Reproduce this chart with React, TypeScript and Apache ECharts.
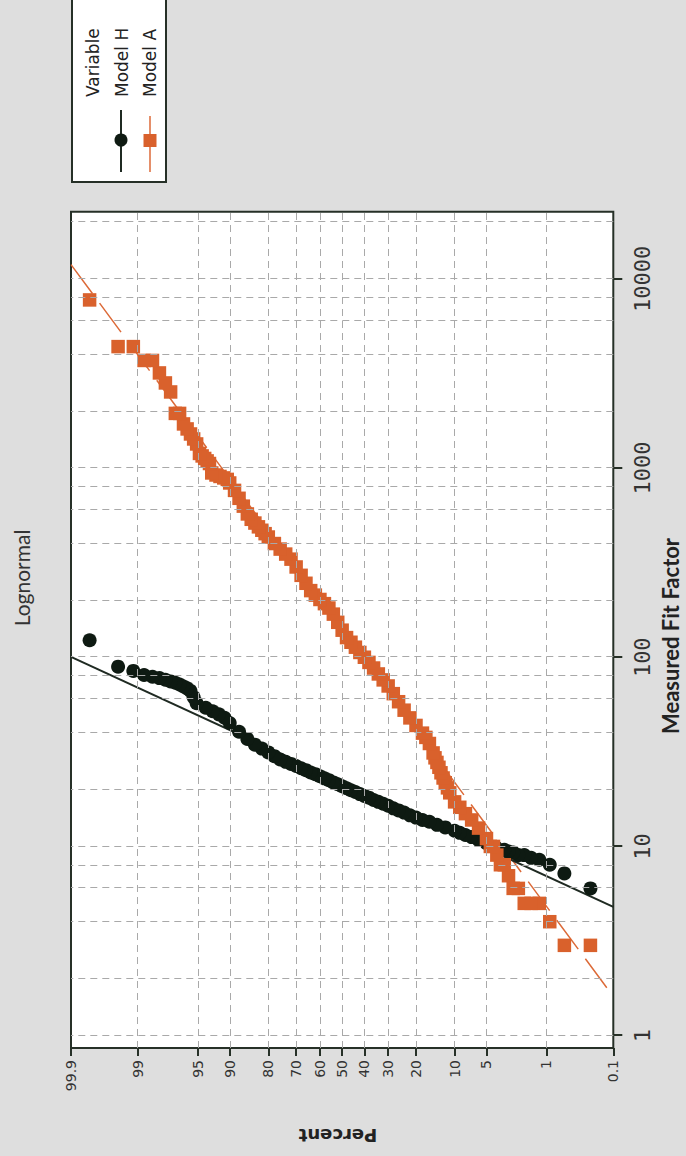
import React, { useEffect, useRef } from "react";
import * as echarts from "echarts";

// ---- axis ticks / grid ----
const pctTicks = [0.1, 1, 5, 10, 20, 30, 40, 50, 60, 70, 80, 90, 95, 99, 99.9];
const pctTickLabels = ["0.1", "1", "5", "10", "20", "30", "40", "50", "60", "70", "80", "90", "95", "99", "99.9"];
const pctGrid = [1, 5, 10, 20, 30, 40, 50, 60, 70, 80, 90, 95, 99];
const fitTicks = [1, 10, 100, 1000, 10000];
const fitTickLabels = ["1", "10", "100", "1000", "10000"];
const fitGrid = [1, 2, 4, 6, 8, 10, 20, 40, 60, 80, 100, 200, 400, 600, 800, 1000, 2000, 4000, 6000, 8000, 10000, 20000];
const fitMin = 0.86;
const fitMax = 22650;

// ---- Model H (black circles) ----
const modelHPercent = [
  0.233, 0.566, 0.899, 1.232, 1.565, 1.898, 2.231, 2.564, 2.897, 3.23,
  4, 5, 6, 7, 8, 9, 10, 12, 14, 16, 18, 20, 22, 24, 26, 28, 30, 32, 34, 36, 38, 40,
  42, 44, 46, 48, 50, 52, 54, 56, 58, 60, 62, 64, 66, 68, 70, 72, 74, 76, 78, 80,
  82, 84, 86, 88, 90, 91, 92, 93, 94,
  95.138, 95.471, 95.804, 96.137, 96.47, 96.803, 97.136, 97.469, 97.802, 98.135,
  98.468, 98.801, 99.134, 99.467, 99.8,
];
const modelHValue = [
  6, 7.2, 8, 8.5, 8.7, 9, 9, 9.3, 9.4, 9.6,
  9.9, 10.4, 10.8, 11.2, 11.5, 11.8, 12.1, 12.6, 13, 13.5, 13.8, 14.2, 14.6, 15.1, 15.5, 15.9, 16.4, 16.8, 17.2, 17.6, 18.1, 18.5,
  18.9, 19.4, 19.8, 20.3, 20.8, 21.3, 21.8, 22.4, 22.9, 23.5, 24.1, 24.6, 25.3, 25.9, 26.6, 27.3, 28, 28.8, 30, 31.4,
  32.9, 34.5, 37, 40.4, 44.9, 47.9, 49.9, 51.8, 54.1,
  57.1, 61.4, 66.4, 68.5, 70, 71.8, 73.3, 74.5, 76, 77.6,
  78.9, 80.5, 84.7, 89.2, 123,
];

// ---- Model A (orange squares) ----
const modelAPercent = [
  0.233, 0.566, 0.899, 1.232, 1.565, 1.898, 2.231, 2.564, 2.897, 3.23, 3.563, 3.896, 4.229, 4.562,
  5, 6, 7, 8, 9, 10, 11, 11.5, 12, 12.5, 13, 13.5, 14, 14.5, 15, 16, 17, 18, 20,
  22, 24, 26, 28, 30, 32, 34, 36, 38, 40, 42, 44, 46, 48, 50, 52, 54, 56, 58, 60,
  62, 64, 66, 68, 70, 72, 74, 76, 78, 80, 81, 82, 83, 84, 85, 86, 87, 88, 89, 90,
  90.476, 91.142, 91.808, 92.474, 93.14, 93.473, 93.806, 94.139, 94.472, 94.805,
  95.138, 95.471, 95.804, 96.137, 96.47, 96.803, 97.136, 97.469, 97.802, 98.135,
  98.468, 98.801, 99.134, 99.467, 99.8,
];
const modelAValue = [
  3, 3, 4, 5, 5, 5, 6, 6, 7, 8, 8, 9, 10, 10,
  11, 12.5, 13.8, 14.9, 16.1, 17.2, 19.2, 20.4, 21.7, 23, 24.5, 26.2, 27.8, 29.4, 31.2, 35, 37.7, 39.7, 43.6,
  47.8, 52.5, 58.2, 64.2, 70.5, 75.9, 81.6, 87.7, 93.9, 100, 106, 113, 120, 127, 139, 153, 169, 182, 192, 202,
  213, 225, 246, 271, 300, 330, 351, 373, 399, 432, 450, 469, 489, 512, 536, 572, 629, 692, 762, 834,
  871, 887, 903, 919, 942, 1057, 1091, 1124, 1159, 1195,
  1341, 1425, 1514, 1610, 1711, 1945, 1945, 2525, 2818, 3183,
  3705, 3705, 4385, 4385, 7740,
];

// ---- fitted lines (end points read at the plot edges) ----
const modelHFitPercent = [99.9, 0.1];
const modelHFitValue = [100.4, 4.79];
const modelAFitPercent = [99.9, 0.1];
const modelAFitValue = [11900, 1.61];

// inverse standard normal (probability scale)
function probit(pct: number): number {
  const p = pct / 100;
  const a = [-3.969683028665376e1, 2.209460984245205e2, -2.759285104469687e2, 1.38357751867269e2, -3.066479806614716e1, 2.506628277459239];
  const b = [-5.447609879822406e1, 1.615858368580409e2, -1.556989798598866e2, 6.680131188771972e1, -1.328068155288572e1];
  const c = [-7.784894002430293e-3, -3.223964580411365e-1, -2.400758277161838, -2.549732539343734, 4.374664141464968, 2.938163982698783];
  const d = [7.784695709041462e-3, 3.224671290700398e-1, 2.445134137142996, 3.754408661907416];
  const pl = 0.02425;
  if (p < pl) {
    const q = Math.sqrt(-2 * Math.log(p));
    return (((((c[0] * q + c[1]) * q + c[2]) * q + c[3]) * q + c[4]) * q + c[5]) / ((((d[0] * q + d[1]) * q + d[2]) * q + d[3]) * q + 1);
  }
  if (p <= 1 - pl) {
    const q = p - 0.5;
    const r = q * q;
    return ((((((a[0] * r + a[1]) * r + a[2]) * r + a[3]) * r + a[4]) * r + a[5]) * q) / (((((b[0] * r + b[1]) * r + b[2]) * r + b[3]) * r + b[4]) * r + 1);
  }
  const q = Math.sqrt(-2 * Math.log(1 - p));
  return -(((((c[0] * q + c[1]) * q + c[2]) * q + c[3]) * q + c[4]) * q + c[5]) / ((((d[0] * q + d[1]) * q + d[2]) * q + d[3]) * q + 1);
}
const lx = (v: number) => Math.log10(v);

const FRAME = "#263027";
const ORANGE = "#d9612c";
const BLACK = "#0e1a12";

function pairs(pcts: number[], vals: number[]) {
  return pcts.map((p, i) => [lx(vals[i]), probit(p)]);
}

export default function App() {
  const ref = useRef<HTMLDivElement>(null);
  useEffect(() => {
    if (!ref.current) return;
    const chart = echarts.init(ref.current, null, { renderer: "svg", width: 1156, height: 686 });
    const xTickVals = fitTicks.map(lx);
    const yTickVals = pctTicks.map(probit);
    const option: any = {
      animation: false,
      backgroundColor: "transparent",
      grid: {
        left: 108,
        top: 71,
        right: 211.7,
        bottom: 72.7,
        show: true,
        backgroundColor: "#ffffff",
        borderColor: FRAME,
        borderWidth: 2,
      },
      xAxis: {
        type: "value",
        min: lx(fitMin),
        max: lx(fitMax),
        position: "bottom",
        axisLine: { show: false, onZero: false },
        splitLine: { show: false },
        axisTick: { show: true, customValues: xTickVals, length: 9, lineStyle: { color: FRAME, width: 2 } },
        axisLabel: {
          customValues: xTickVals,
          margin: 18,
          fontFamily: "DejaVu Sans Mono",
          fontSize: 22,
          color: "#333",
          formatter: (v: number) => {
            const i = xTickVals.findIndex((t) => Math.abs(t - v) < 1e-6);
            return i >= 0 ? fitTickLabels[i] : "";
          },
        },
      },
      yAxis: {
        type: "value",
        min: probit(0.1),
        max: probit(99.9),
        position: "left",
        axisLine: { show: false, onZero: false },
        splitLine: { show: false },
        axisTick: { show: true, customValues: yTickVals, length: 8, lineStyle: { color: FRAME, width: 2 } },
        axisLabel: {
          customValues: yTickVals,
          margin: 12,
          fontFamily: "DejaVu Sans",
          fontSize: 14,
          color: "#333",
          formatter: (v: number) => {
            const i = yTickVals.findIndex((t) => Math.abs(t - v) < 1e-6);
            return i >= 0 ? pctTickLabels[i] : "";
          },
        },
      },
      series: [
        {
          type: "line",
          data: [],
          z: 1,
          silent: true,
          markLine: {
            silent: true,
            symbol: ["none", "none"],
            label: { show: false },
            emphasis: { disabled: true },
            lineStyle: { color: "#a9a9a9", width: 1, type: [7, 5] },
            data: [
              ...fitGrid.map((v) => ({ xAxis: lx(v) })),
              ...pctGrid.map((p) => ({ yAxis: probit(p) })),
            ],
          },
        },
        {
          name: "Model A fit",
          type: "line",
          data: pairs(modelAFitPercent, modelAFitValue),
          showSymbol: false,
          silent: true,
          z: 2,
          lineStyle: { color: "#dc6a38", width: 1.5, type: [36, 12] },
        },
        {
          name: "Model H fit",
          type: "line",
          data: pairs(modelHFitPercent, modelHFitValue),
          showSymbol: false,
          silent: true,
          z: 2,
          lineStyle: { color: "#1f2a22", width: 2 },
        },
        {
          name: "Model H",
          type: "scatter",
          data: pairs(modelHPercent, modelHValue),
          symbol: "circle",
          symbolSize: 14,
          z: 3,
          itemStyle: { color: BLACK, opacity: 1 },
        },
        {
          name: "Model A",
          type: "scatter",
          data: pairs(modelAPercent, modelAValue),
          symbol: "rect",
          symbolSize: 13.5,
          z: 4,
          itemStyle: { color: ORANGE, opacity: 1 },
        },
      ],
      graphic: [
        {
          type: "text",
          x: 578,
          y: 21,
          style: { text: "Lognormal", fontFamily: "Lato", fontSize: 21, fill: "#333", align: "center", verticalAlign: "middle" },
        },
        {
          type: "text",
          x: 520,
          y: 670,
          style: { text: "Measured Fit Factor", fontFamily: "Lato", fontWeight: "bold", fontSize: 22, fill: "#222", align: "center", verticalAlign: "middle" },
        },
        {
          type: "text",
          x: 21,
          y: 338,
          rotation: Math.PI / 2,
          style: { text: "Percent", fontFamily: "DejaVu Sans", fontWeight: "bold", fontSize: 18, fill: "#222", align: "center", verticalAlign: "middle" },
        },
        {
          type: "rect",
          shape: { x: 974, y: 72, width: 200, height: 94 },
          style: { fill: "#ffffff", stroke: FRAME, lineWidth: 2 },
        },
        { type: "text", x: 1059, y: 93, style: { text: "Variable", fontFamily: "DejaVu Sans", fontSize: 17, fill: "#222", align: "left", verticalAlign: "middle" } },
        { type: "text", x: 1059, y: 122, style: { text: "Model H", fontFamily: "DejaVu Sans", fontSize: 17, fill: "#222", align: "left", verticalAlign: "middle" } },
        { type: "text", x: 1059, y: 150, style: { text: "Model A", fontFamily: "DejaVu Sans", fontSize: 17, fill: "#222", align: "left", verticalAlign: "middle" } },
        { type: "line", shape: { x1: 984, y1: 121, x2: 1046, y2: 121 }, style: { stroke: "#1f2a22", lineWidth: 2 } },
        { type: "circle", shape: { cx: 1016, cy: 121, r: 6.5 }, style: { fill: BLACK } },
        { type: "line", shape: { x1: 984, y1: 150, x2: 1040, y2: 150 }, style: { stroke: "#dc6a38", lineWidth: 1.5 } },
        { type: "rect", shape: { x: 1009, y: 143.5, width: 13, height: 13 }, style: { fill: ORANGE } },
      ],
    };
    chart.setOption(option);
    return () => chart.dispose();
  }, []);

  return (
    <div style={{ position: "fixed", left: 0, top: 0, width: 686, height: 1156, overflow: "hidden", background: "#dedede" }}>
      <div
        ref={ref}
        style={{
          position: "absolute",
          left: 0,
          top: 0,
          width: 1156,
          height: 686,
          transformOrigin: "0 0",
          transform: "translateY(1156px) rotate(-90deg)",
        }}
      />
    </div>
  );
}
